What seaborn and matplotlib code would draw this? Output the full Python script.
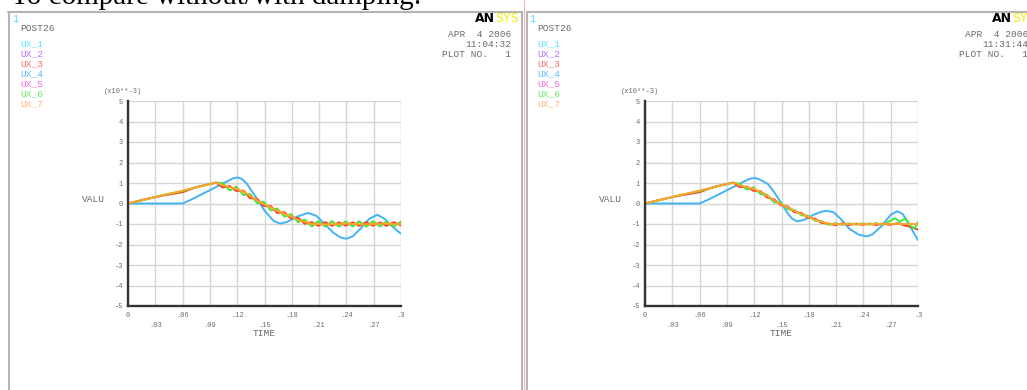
import matplotlib
matplotlib.use("Agg")
import matplotlib.pyplot as plt
from matplotlib.lines import Line2D
import seaborn as sns

# ---------------- data (values in x10**-3) ----------------
X_TICKS = [0, 0.03, 0.06, 0.09, 0.12, 0.15, 0.18, 0.21, 0.24, 0.27, 0.30]
X_TICK_LABELS = ["0", ".03", ".06", ".09", ".12", ".15", ".18", ".21", ".24", ".27", ".3"]
Y_TICKS = [5, 4, 3, 2, 1, 0, -1, -2, -3, -4, -5]
Y_TICK_LABELS = ["5", "4", "3", "2", "1", "0", "-1", "-2", "-3", "-4", "-5"]

LEGEND_LABELS = ["UX_1", "UX_2", "UX_3", "UX_4", "UX_5", "UX_6", "UX_7"]
LEGEND_COLORS = ["#5ce8ff", "#b86cff", "#ff6a6a", "#58b8ff", "#ff66e6", "#66ee66", "#ffb870"]

CLOCKS = ["11:04:32", "11:31:44"]
DATE = "APR  4 2006"

# grid of times used for the oscillating nodes after the peak
T_OSC = [0.104, 0.112, 0.119, 0.127, 0.134, 0.142, 0.149, 0.157, 0.164, 0.172,
         0.179, 0.187, 0.194, 0.202, 0.209, 0.217, 0.224, 0.232, 0.239, 0.247,
         0.254, 0.262, 0.269, 0.277, 0.284, 0.292, 0.300]

# ---- left chart : without damping ----
T_UX4_A = [0, 0.06, 0.07, 0.08, 0.09, 0.10, 0.11, 0.115, 0.12, 0.125, 0.13, 0.14,
           0.15, 0.16, 0.167, 0.175, 0.185, 0.198, 0.207, 0.215, 0.225, 0.233,
           0.24, 0.247, 0.255, 0.265, 0.274, 0.282, 0.29, 0.30]
UX4_A = [0, 0, 0.2, 0.43, 0.65, 0.88, 1.1, 1.22, 1.27, 1.2, 1.0, 0.35,
         -0.35, -0.85, -0.98, -0.9, -0.65, -0.46, -0.6, -0.95, -1.4, -1.65,
         -1.72, -1.6, -1.25, -0.75, -0.55, -0.75, -1.1, -1.48]

T_UX7_A = [0, 0.097, 0.105, 0.12, 0.13, 0.145, 0.155, 0.167, 0.18, 0.19, 0.203,
           0.22, 0.24, 0.26, 0.28, 0.30]
UX7_A = [0, 1.02, 0.87, 0.7, 0.5, 0.06, -0.15, -0.42, -0.65, -0.85, -1.0,
         -1.02, -0.98, -1.02, -0.98, -1.0]

T_UX6_A = [0, 0.02, 0.04, 0.06, 0.08, 0.097] + T_OSC
UX6_A = [0, 0.2, 0.43, 0.6, 0.85, 1.02,
         0.99, 0.64, 0.82, 0.41, 0.47, 0.01, 0.09, -0.34, -0.25, -0.64,
         -0.52, -0.91, -0.78, -1.12, -0.86, -1.13, -0.86, -1.13, -0.87, -1.12,
         -0.87, -1.13, -0.86, -1.12, -0.87, -1.13, -0.88]

T_UX3_A = [0, 0.02, 0.04, 0.06, 0.075, 0.097] + T_OSC
UX3_A = [0, 0.22, 0.4, 0.55, 0.8, 1.02,
         0.78, 0.85, 0.61, 0.62, 0.26, 0.22, -0.12, -0.13, -0.46, -0.43,
         -0.73, -0.70, -0.99, -0.91, -1.09, -0.91, -1.09, -0.92, -1.08, -0.92,
         -1.09, -0.91, -1.08, -0.92, -1.09, -0.91, -1.07]

# ---- right chart : with damping ----
T_UX4_B = [0, 0.06, 0.07, 0.08, 0.09, 0.10, 0.11, 0.115, 0.121, 0.127, 0.135,
           0.142, 0.15, 0.157, 0.162, 0.167, 0.175, 0.185, 0.194, 0.2, 0.207,
           0.215, 0.225, 0.235, 0.244, 0.25, 0.26, 0.27, 0.277, 0.283, 0.29,
           0.295, 0.30]
UX4_B = [0, 0, 0.2, 0.42, 0.65, 0.87, 1.1, 1.2, 1.25, 1.15, 0.95,
         0.55, 0.0, -0.5, -0.75, -0.87, -0.8, -0.55, -0.4, -0.36, -0.42,
         -0.75, -1.25, -1.52, -1.61, -1.5, -1.1, -0.55, -0.38, -0.5, -1.0,
         -1.4, -1.78]

T_UX7_B = [0, 0.097, 0.105, 0.12, 0.13, 0.145, 0.155, 0.167, 0.18, 0.19, 0.203,
           0.22, 0.24, 0.26, 0.28, 0.30]
UX7_B = [0, 1.02, 0.87, 0.7, 0.5, 0.06, -0.15, -0.42, -0.65, -0.85, -1.0,
         -1.0, -1.01, -0.99, -1.0, -1.0]

T_UX6_B = [0, 0.02, 0.04, 0.06, 0.08, 0.097] + T_OSC[:22] + \
          [0.269, 0.275, 0.28, 0.286, 0.292, 0.296, 0.30]
UX6_B = [0, 0.2, 0.43, 0.6, 0.85, 1.02,
         0.96, 0.68, 0.79, 0.46, 0.43, 0.05, 0.04, -0.28, -0.31, -0.57,
         -0.59, -0.84, -0.86, -1.04, -0.96, -1.04, -0.97, -1.03, -0.97, -1.03,
         -0.96, -1.04,
         -0.85, -0.72, -0.9, -0.72, -1.1, -1.22, -0.9]

T_UX3_B = [0, 0.02, 0.04, 0.06, 0.075, 0.097] + T_OSC
UX3_B = [0, 0.22, 0.4, 0.55, 0.8, 1.02,
         0.8, 0.82, 0.62, 0.6, 0.3, 0.2, -0.08, -0.15, -0.42, -0.47,
         -0.69, -0.74, -0.95, -0.98, -1.05, -0.97, -1.05, -0.98, -1.04, -0.98,
         -1.05, -0.98, -1.04, -0.96, -1.05, -1.15, -1.27]

COL_BLUE = "#44b2f6"
COL_RED = "#ff3a2c"
COL_GREEN = "#3fe838"
COL_ORANGE = "#ffa22e"

# ---------------- figure ----------------
sns.set_theme(style="white")
plt.rcParams["font.family"] = ["Liberation Mono", "DejaVu Sans"]

W, H = 1027, 390
fig = plt.figure(figsize=(W / 100, H / 100), dpi=100)
fig.patch.set_facecolor("white")

GRAY_TXT = "#6a6a6a"
MONO = "Liberation Mono"


def ftext(x, y, s, **kw):
    return fig.text(x / W, 1 - y / H, s, **kw)


def fline(xs, ys, **kw):
    fig.add_artist(Line2D([x / W for x in xs], [1 - y / H for y in ys],
                          transform=fig.transFigure, **kw))


# title text at the very top (cut by the page edge)
ftext(11, 4, "To compare without/with damping:", family="Liberation Serif",
      fontsize=21, color="black", va="baseline", ha="left")

# page frames
FRAME = "#b4b4b4"
fline([8.5, 8.5], [12, 391], color=FRAME, lw=1.5)
fline([8, 522], [12, 12], color=FRAME, lw=1.5)
fline([522, 522], [12, 391], color=FRAME, lw=1.5)
fline([523.5, 523.5], [0, 391], color="#f2b4b4", lw=0.8)
fline([527, 527], [12, 391], color=FRAME, lw=1.5)
fline([527, 1028], [12, 12], color=FRAME, lw=1.5)

AX_L, AX_R, AX_T, AX_B = 128, 401, 101, 306


def panel(dx, clock, series):
    # header texts
    ftext(12 + dx, 22, "1", family=MONO, fontsize=7, color="#40dcff", va="baseline")
    ftext(20 + dx, 31, "POST26", family=MONO, fontsize=6.8, color=GRAY_TXT, va="baseline")
    for i, (lab, col) in enumerate(zip(LEGEND_LABELS, LEGEND_COLORS)):
        ftext(20 + dx, 46 + 10 * i, lab, family=MONO, fontsize=6.8, color=col,
              va="baseline")
    ftext(495 + dx, 22.5, "AN", family="DejaVu Sans", fontweight="bold",
          fontsize=9, color="black", ha="right", va="baseline")
    ftext(495 + dx, 22.5, "SYS", family="DejaVu Sans", fontsize=9,
          color="#f2ee00", ha="left", va="baseline")
    for j, line in enumerate([DATE, clock, "PLOT NO.   1"]):
        ftext(511 + dx, 37 + 10 * j, line, family=MONO, fontsize=6.8,
              color=GRAY_TXT, ha="right", va="baseline")
    ftext(104 + dx, 93, "(x10**-3)", family=MONO, fontsize=5, color=GRAY_TXT,
          va="baseline")
    ftext(82 + dx, 200, "VALU", family=MONO, fontsize=6.8, color=GRAY_TXT,
          va="center")
    ftext((AX_L + AX_R) / 2 + dx, 333, "TIME", family=MONO, fontsize=6.8,
          color=GRAY_TXT, ha="center", va="center")

    ax = fig.add_axes([(AX_L + dx) / W, 1 - AX_B / H, (AX_R - AX_L) / W,
                       (AX_B - AX_T) / H])
    ax.set_facecolor("white")
    for t, v, c in series:
        sns.lineplot(x=t, y=v, ax=ax, color=c, linewidth=1.4, estimator=None,
                     sort=False, legend=False)
    ax.set_xlim(0, 0.3)
    ax.set_ylim(-5, 5)
    ax.set_xticks(X_TICKS)
    ax.set_xticklabels([])
    ax.set_yticks(Y_TICKS)
    ax.set_yticklabels(Y_TICK_LABELS, family=MONO, fontsize=5, color=GRAY_TXT)
    ax.tick_params(axis="both", length=0)
    ax.tick_params(axis="y", pad=3.5)
    ax.grid(True, color="#d6d6d6", linewidth=1.0)
    ax.set_axisbelow(True)
    for s in ["top", "right"]:
        ax.spines[s].set_visible(False)
    for s in ["left", "bottom"]:
        ax.spines[s].set_color("#333333")
        ax.spines[s].set_linewidth(1.7)
    ax.set_xlabel("")
    ax.set_ylabel("")
    for i, (t, lab) in enumerate(zip(X_TICKS, X_TICK_LABELS)):
        off = 4.5 if i % 2 == 0 else 11.5
        ax.annotate(lab, xy=(t, 0), xycoords=("data", "axes fraction"),
                    xytext=(0, -off), textcoords="offset points",
                    ha="center", va="top", family=MONO, fontsize=5,
                    color=GRAY_TXT, annotation_clip=False)
    return ax


panel(0, CLOCKS[0], [(T_UX4_A, UX4_A, COL_BLUE), (T_UX3_A, UX3_A, COL_RED),
                     (T_UX6_A, UX6_A, COL_GREEN), (T_UX7_A, UX7_A, COL_ORANGE)])
panel(517, CLOCKS[1], [(T_UX4_B, UX4_B, COL_BLUE), (T_UX3_B, UX3_B, COL_RED),
                       (T_UX6_B, UX6_B, COL_GREEN), (T_UX7_B, UX7_B, COL_ORANGE)])

fig.savefig("out.png", dpi=100, facecolor="white")
